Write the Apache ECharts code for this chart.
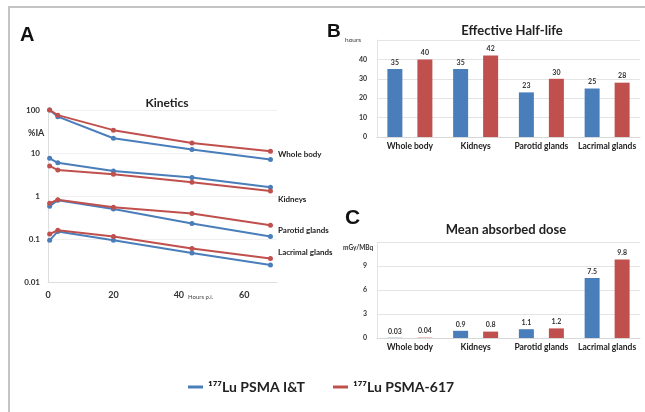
<!DOCTYPE html>
<html>
<head>
<meta charset="utf-8">
<script src="https://cdn.jsdelivr.net/npm/echarts@6/dist/echarts.min.js"></script>
<style>
  html, body { margin: 0; padding: 0; background: #fff; }
  #main { width: 645px; height: 412px; }
</style>
</head>
<body>
<div id="main"></div>
<script>
// series names (legend)
var nameIT = '\u00B9\u2077\u2077Lu PSMA I&T';
var name617 = '\u00B9\u2077\u2077Lu PSMA-617';

// A: kinetics, %IA vs hours p.i.
var hours = [0.5, 3, 20, 44, 68];
var organsA = ['Whole body', 'Kidneys', 'Parotid glands', 'Lacrimal glands'];
var wbIT = [100, 70, 22, 12, 7.1];
var wb617 = [100, 76, 34, 17, 11];
var kidIT = [7.5, 5.9, 3.8, 2.7, 1.6];
var kid617 = [5.0, 4.0, 3.2, 2.1, 1.3];
var parIT = [0.58, 0.8, 0.5, 0.23, 0.115];
var par617 = [0.68, 0.82, 0.55, 0.39, 0.21];
var lacIT = [0.093, 0.15, 0.093, 0.047, 0.025];
var lac617 = [0.13, 0.16, 0.115, 0.06, 0.035];

// B: effective half-life (hours)
var organs = ['Whole body', 'Kidneys', 'Parotid glands', 'Lacrimal glands'];
var halfIT = [35, 35, 23, 25];
var half617 = [40, 42, 30, 28];

// C: mean absorbed dose (mGy/MBq)
var doseIT = [0.03, 0.9, 1.1, 7.5];
var dose617 = [0.04, 0.8, 1.2, 9.8];

var blue = '#4a7ebb';
var red = '#c0504d';
var font = 'Lato';

function zip(xs, ys) {
  return xs.map(function(x, i) { return [x, ys[i]]; });
}

var lineStyleIT = { width: 2, color: '#5b8fca' };
var lineStyle617 = { width: 2, color: red };

function lineSeries(name, data, color) {
  return {
    name: name,
    type: 'line',
    xAxisIndex: 0,
    yAxisIndex: 0,
    data: zip(hours, data),
    symbol: 'circle',
    symbolSize: 5,
    itemStyle: { color: color },
    lineStyle: { width: 2, color: color },
    animation: false
  };
}

var seriesA = [
  lineSeries(nameIT, wbIT, blue), lineSeries(name617, wb617, red),
  lineSeries(nameIT, kidIT, blue), lineSeries(name617, kid617, red),
  lineSeries(nameIT, parIT, blue), lineSeries(name617, par617, red),
  lineSeries(nameIT, lacIT, blue), lineSeries(name617, lac617, red)
];

function barSeries(name, data, color, idx) {
  return {
    name: name,
    type: 'bar',
    xAxisIndex: idx,
    yAxisIndex: idx,
    data: data,
    barWidth: 15,
    barGap: '100%',
    itemStyle: { color: color },
    label: {
      show: true,
      position: 'top',
      distance: 3,
      fontSize: 7,
      fontWeight: 'bold',
      fontFamily: font,
      color: '#333'
    },
    animation: false
  };
}

var catAxisLabel = { interval: 0, fontSize: 8.5, fontWeight: 'bold', fontFamily: font, color: '#222', margin: 5 };
var valAxisLabel = { fontSize: 7, fontWeight: 'bold', fontFamily: font, color: '#333', margin: 10, showMaxLabel: false };
var splitFaint = { show: true, lineStyle: { color: '#e4e4e4', width: 1 } };

var organLabelY = [155, 200, 231, 253];

var option = {
  backgroundColor: '#fff',
  textStyle: { fontFamily: font },
  title: [
    { text: 'Kinetics', left: 162, top: 92, textAlign: 'center',
      textStyle: { fontSize: 12, fontWeight: 'bold', color: '#222', fontFamily: font } },
    { text: 'Effective Half-life', left: 507, top: 19, textAlign: 'center',
      textStyle: { fontSize: 13, fontWeight: 'bold', color: '#222', fontFamily: font } },
    { text: 'Mean absorbed dose', left: 501, top: 218, textAlign: 'center',
      textStyle: { fontSize: 13, fontWeight: 'bold', color: '#222', fontFamily: font } }
  ],
  legend: {
    left: 183,
    top: 375,
    itemGap: 28,
    itemWidth: 15,
    itemHeight: 3,
    icon: 'rect',
    data: [nameIT, name617],
    textStyle: { fontSize: 14, fontWeight: 'bold', fontFamily: font, color: '#222' }
  },
  grid: [
    { left: 48, top: 110, width: 229, height: 172 },
    { left: 377, top: 40, right: 5, height: 97 },
    { left: 377, top: 242, right: 5, height: 96 }
  ],
  xAxis: [
    {
      gridIndex: 0, type: 'value', min: 0, max: 70, interval: 20,
      axisLine: { show: true, lineStyle: { color: '#ddd' } },
      axisTick: { show: false },
      splitLine: { show: false },
      axisLabel: { fontSize: 9, fontWeight: 'bold', fontFamily: font, color: '#333', margin: 9, showMaxLabel: false }
    },
    {
      gridIndex: 1, type: 'category', data: organs,
      axisLine: { show: true, lineStyle: { color: '#d8d8d8' } },
      axisTick: { show: false },
      axisLabel: catAxisLabel
    },
    {
      gridIndex: 2, type: 'category', data: organs,
      axisLine: { show: true, lineStyle: { color: '#d8d8d8' } },
      axisTick: { show: false },
      axisLabel: catAxisLabel
    }
  ],
  yAxis: [
    {
      gridIndex: 0, type: 'log', logBase: 10, min: 0.01, max: 100,
      axisLine: { show: true, lineStyle: { color: '#ddd' } },
      axisTick: { show: false },
      splitLine: { show: true, lineStyle: { color: '#f0f0f0' } },
      axisLabel: { fontSize: 8, fontWeight: 'bold', fontFamily: font, color: '#333', margin: 8 }
    },
    {
      gridIndex: 1, type: 'value', min: 0, max: 50, interval: 10,
      axisLine: { show: true, lineStyle: { color: '#e4e4e4' } },
      axisTick: { show: false },
      splitLine: splitFaint,
      axisLabel: valAxisLabel
    },
    {
      gridIndex: 2, type: 'value', min: 0, max: 12, interval: 3,
      axisLine: { show: true, lineStyle: { color: '#e4e4e4' } },
      axisTick: { show: false },
      splitLine: splitFaint,
      axisLabel: valAxisLabel
    }
  ],
  graphic: [
    { type: 'rect', shape: { x: 9, y: 7, width: 700, height: 500 },
      style: { fill: 'none', stroke: '#c4c4c4', lineWidth: 2 }, silent: true },
    { type: 'text', left: 20, top: 25,
      style: { text: 'A', font: 'bold 20px "Liberation Sans"', fill: '#111' } },
    { type: 'text', left: 327, top: 22,
      style: { text: 'B', font: 'bold 19px "Liberation Sans"', fill: '#111' } },
    { type: 'text', left: 345, top: 208,
      style: { text: 'C', font: 'bold 21px "Liberation Sans"', fill: '#111' } },
    { type: 'text', left: 28, top: 129,
      style: { text: '%IA', font: 'bold 9px Lato', fill: '#333' } },
    { type: 'text', left: 188, top: 294,
      style: { text: 'Hours p.i.', font: '6px Lato', fill: '#444' } },
    { type: 'text', left: 345, top: 36,
      style: { text: 'hours', font: '6.5px Lato', fill: '#333' } },
    { type: 'text', left: 343, top: 244,
      style: { text: 'mGy/MBq', font: 'bold 6.5px Lato', fill: '#333' } }
  ].concat(organsA.map(function(o, i) {
    return { type: 'text', left: 278, top: organLabelY[i] - 5,
      style: { text: o, font: 'bold 8px Lato', fill: '#222' } };
  })),
  series: seriesA.concat([
    barSeries(nameIT, halfIT, blue, 1),
    barSeries(name617, half617, red, 1),
    barSeries(nameIT, doseIT, blue, 2),
    barSeries(name617, dose617, red, 2)
  ])
};

var chart = echarts.init(document.getElementById('main'), null, { renderer: 'canvas' });
chart.setOption(option);
</script>
</body>
</html>
